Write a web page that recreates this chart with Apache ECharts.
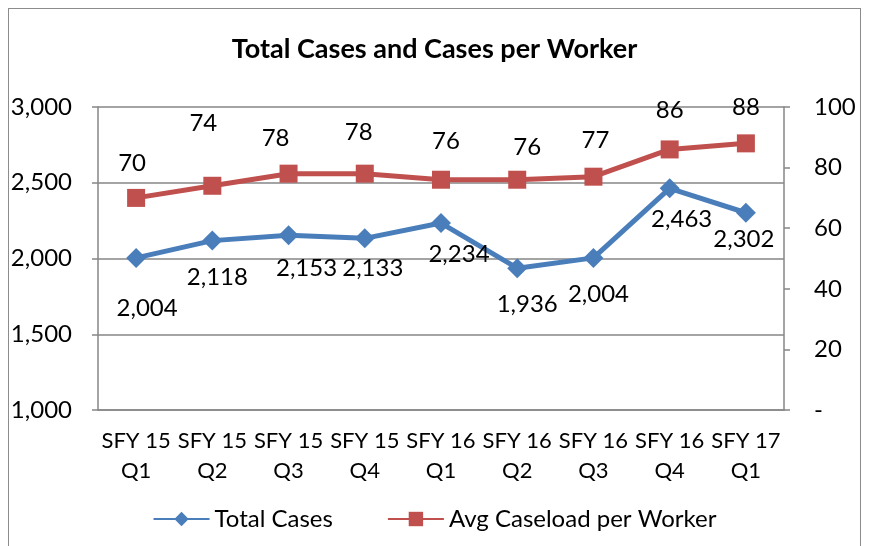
<!DOCTYPE html>
<html>
<head>
<meta charset="utf-8">
<script src="https://cdn.jsdelivr.net/npm/echarts@6/dist/echarts.min.js"></script>
<style>
  html, body { margin: 0; padding: 0; background: #fff; }
  #chart { width: 869px; height: 546px; }
  #frame { position: absolute; left: 8px; top: 8px; width: 853px; height: 560px; border: 1.5px solid #8c8c8c; box-sizing: border-box; pointer-events: none; }
</style>
</head>
<body>
<div id="chart"></div>
<div id="frame"></div>
<script>
var categories = ['SFY 15\nQ1', 'SFY 15\nQ2', 'SFY 15\nQ3', 'SFY 15\nQ4', 'SFY 16\nQ1', 'SFY 16\nQ2', 'SFY 16\nQ3', 'SFY 16\nQ4', 'SFY 17\nQ1'];
var totalCases = [2004, 2118, 2153, 2133, 2234, 1936, 2004, 2463, 2302];
var avgCaseload = [70, 74, 78, 78, 76, 76, 77, 86, 88];

// label nudges (px) to mimic the spreadsheet layout
var totalLabelShift = [[11, 50], [5, 37], [18, 33], [8, 30], [18, 31], [10, 36], [5, 36], [12, 31], [-2, 27]];
var avgLabelShift = [[-4, -35], [-9, -63], [-13, -35], [-6, -41], [5, -38], [10, -32], [2, -36], [0, -39], [0, -36]];

var fontFamily = 'Lato, "Open Sans", sans-serif';

function fmt(v) {
    return v.toString().replace(/\B(?=(\d{3})+(?!\d))/g, ',');
}

var chart = echarts.init(document.getElementById('chart'));

var option = {
    animation: false,
    textStyle: { fontFamily: fontFamily },
    title: {
        text: 'Total Cases and Cases per Worker',
        left: 'center',
        top: 31,
        textStyle: { fontSize: 27, fontWeight: 'bold', color: '#000', fontFamily: fontFamily }
    },
    legend: {
        bottom: 10,
        left: 'center',
        itemWidth: 56,
        itemHeight: 18,
        itemGap: 54,
        textStyle: { fontSize: 24, color: '#000' },
        data: ['Total Cases', 'Avg Caseload per Worker']
    },
    grid: { left: 98, right: 85, top: 107, bottom: 136 },
    xAxis: {
        type: 'category',
        data: categories,
        axisLine: { lineStyle: { color: '#868686', width: 1.5 } },
        axisTick: { length: 6, lineStyle: { color: '#868686', width: 1.5 } },
        axisLabel: { interval: 0, fontSize: 22, color: '#000', lineHeight: 30, margin: 16 }
    },
    yAxis: [
        {
            type: 'value',
            min: 1000,
            max: 3000,
            interval: 500,
            axisLine: { show: true, lineStyle: { color: '#868686', width: 1.5 } },
            axisTick: { show: true, length: 6, lineStyle: { color: '#868686', width: 1.5 } },
            splitLine: { lineStyle: { color: '#868686', width: 1.5 } },
            axisLabel: { fontSize: 24, color: '#000', margin: 26, formatter: fmt }
        },
        {
            type: 'value',
            min: 0,
            max: 100,
            interval: 20,
            axisLine: { show: true, lineStyle: { color: '#868686', width: 1.5 } },
            axisTick: { show: true, length: 6, lineStyle: { color: '#868686', width: 1.5 } },
            splitLine: { show: false },
            axisLabel: {
                fontSize: 24, color: '#000', margin: 30,
                formatter: function (v) { return v === 0 ? '-' : v; }
            }
        }
    ],
    series: [
        {
            name: 'Total Cases',
            type: 'line',
            yAxisIndex: 0,
            symbol: 'diamond',
            symbolSize: 20,
            itemStyle: { color: '#4a7ebb' },
            lineStyle: { color: '#4a7ebb', width: 5 },
            data: totalCases.map(function (v, i) {
                return {
                    value: v,
                    label: { offset: totalLabelShift[i] }
                };
            }),
            label: {
                show: true,
                position: 'inside',
                fontSize: 24,
                color: '#000',
                formatter: function (p) { return fmt(p.value); }
            },
            z: 3
        },
        {
            name: 'Avg Caseload per Worker',
            type: 'line',
            yAxisIndex: 1,
            symbol: 'rect',
            symbolSize: 18,
            itemStyle: { color: '#c0504d' },
            lineStyle: { color: '#c0504d', width: 5 },
            data: avgCaseload.map(function (v, i) {
                return {
                    value: v,
                    label: { offset: avgLabelShift[i] }
                };
            }),
            label: {
                show: true,
                position: 'inside',
                fontSize: 24,
                color: '#000'
            },
            z: 2
        }
    ]
};

chart.setOption(option);
</script>
</body>
</html>
